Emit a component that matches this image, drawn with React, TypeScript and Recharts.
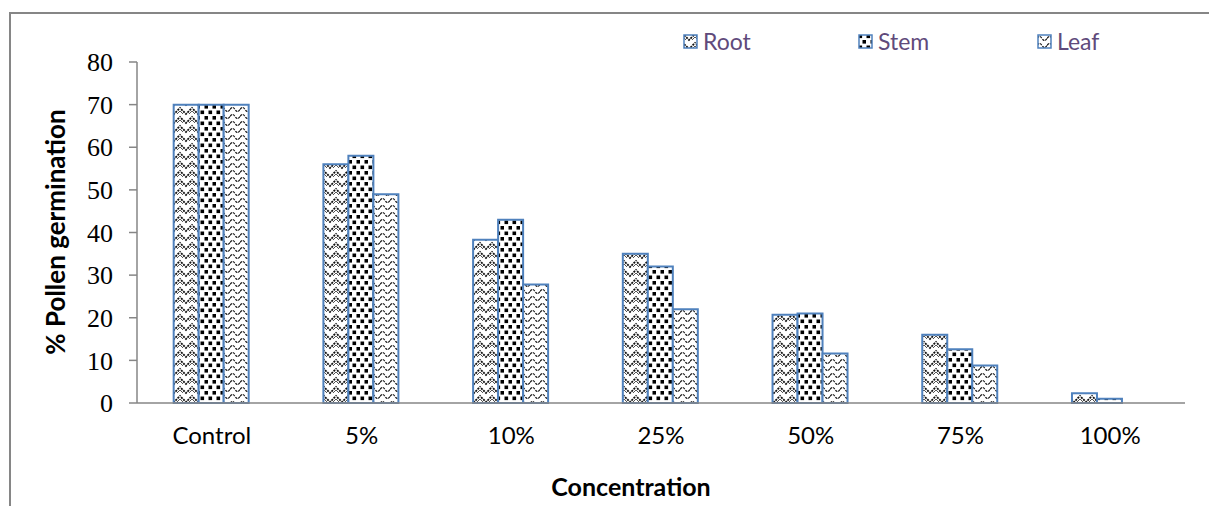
import React from 'react';
import { BarChart, Bar, XAxis, YAxis } from 'recharts';

const categories = ['Control', '5%', '10%', '25%', '50%', '75%', '100%'];
const rootValues = [70, 56, 38.3, 35, 20.7, 16, 2.3];
const stemValues = [70, 58, 43, 32, 21, 12.6, 1];
const leafValues = [70, 49, 27.8, 22, 11.6, 8.8, 0];
const yTicks = [0, 10, 20, 30, 40, 50, 60, 70, 80];

const seriesList = [
  { key: 'root', name: 'Root', pattern: 'url(#pat-root)' },
  { key: 'stem', name: 'Stem', pattern: 'url(#pat-stem)' },
  { key: 'leaf', name: 'Leaf', pattern: 'url(#pat-leaf)' },
];

const data = categories.map((c, i) => ({
  name: c,
  root: rootValues[i],
  stem: stemValues[i],
  leaf: leafValues[i],
}));

const BAR_STROKE = '#4F81BD';
const AXIS_GREY = '#868686';

function Patterns() {
  return (
    <defs>
      <pattern id="pat-root" width="12" height="9" patternUnits="userSpaceOnUse">
        <rect width="12" height="9" fill="#fff" />
        <path d="M-1,-1 L6,6 L13,-1 M-1,8 L6,15 L13,8" fill="none" stroke="#111" strokeWidth="1.8" strokeDasharray="2 1" />
        <path d="M0,3 L3,6 M12,3 L9,6" fill="none" stroke="#555" strokeWidth="1" />
      </pattern>
      <pattern id="pat-stem" width="8" height="11" patternUnits="userSpaceOnUse">
        <rect width="8" height="11" fill="#fff" />
        <rect x="0.5" y="0.5" width="3.6" height="3.6" fill="#000" />
        <rect x="4.5" y="6" width="3.6" height="3.6" fill="#000" />
      </pattern>
      <pattern id="pat-leaf" width="10" height="7" patternUnits="userSpaceOnUse">
        <rect width="10" height="7" fill="#fff" />
        <path d="M0,4.5 Q2.5,0.5 5,4.5 T10,4.5" fill="none" stroke="#111" strokeWidth="1.2" strokeDasharray="2.5 1" />
      </pattern>
    </defs>
  );
}

function LegendBox() {
  return (
    <div
      style={{
        position: 'absolute',
        left: 683,
        top: 27,
        display: 'flex',
        fontFamily: 'Lato, sans-serif',
        fontSize: 23,
        color: '#604A7B',
        lineHeight: '28px',
      }}
    >
      {seriesList.map((s, i) => (
        <div key={s.key} style={{ display: 'flex', alignItems: 'center', width: i === 0 ? 175 : 179 }}>
          <svg width={15} height={15} style={{ marginRight: 5 }}>
            <rect x={1} y={1} width={13} height={13} fill={s.pattern} stroke={BAR_STROKE} strokeWidth={1.5} />
          </svg>
          <span>{s.name}</span>
        </div>
      ))}
    </div>
  );
}

export default function App() {
  return (
    <div style={{ position: 'absolute', left: 0, top: 0, width: 1209, height: 506, background: '#fff' }}>
      <div
        style={{
          position: 'absolute',
          left: 9,
          top: 12,
          right: 0,
          bottom: 0,
          borderTop: `2px solid ${AXIS_GREY}`,
          borderLeft: `2px solid ${AXIS_GREY}`,
        }}
      />
      <BarChart
        width={1209}
        height={506}
        data={data}
        margin={{ top: 62, right: 24, left: 77, bottom: 43 }}
        barCategoryGap="24.5%"
        barGap={0}
        style={{ position: 'absolute', left: 0, top: 0 }}
      >
        <Patterns />
        <XAxis
          dataKey="name"
          height={60}
          tickLine={false}
          axisLine={{ stroke: AXIS_GREY, strokeWidth: 1.5 }}
          tickMargin={18}
          tick={{ fill: '#000', fontSize: 24, fontFamily: 'Lato, sans-serif' }}
          label={{
            content: () => (
              <text x={631} y={486} textAnchor="middle" dominantBaseline="central" fontFamily="Lato, sans-serif" fontWeight="bold" fontSize={25} fill="#000">
                Concentration
              </text>
            ),
          }}
        />
        <YAxis
          width={60}
          domain={[0, 80]}
          ticks={yTicks}
          interval={0}
          tickSize={8}
          tickMargin={16}
          axisLine={{ stroke: AXIS_GREY, strokeWidth: 1.5 }}
          tickLine={{ stroke: AXIS_GREY, strokeWidth: 1.5 }}
          tick={{ fill: '#000', fontSize: 26, fontFamily: 'Liberation Serif, serif' }}
          label={{
            content: () => (
              <text
                x={55}
                y={232}
                transform="rotate(-90 55 232)"
                textAnchor="middle"
                dominantBaseline="central"
                fontFamily="Lato, sans-serif"
                fontWeight="bold"
                fontSize={26}
                fill="#000"
              >
                % Pollen germination
              </text>
            ),
          }}
        />
        {seriesList.map((s) => (
          <Bar
            key={s.key}
            dataKey={s.key}
            name={s.name}
            fill={s.pattern}
            stroke={BAR_STROKE}
            strokeWidth={2}
            isAnimationActive={false}
          />
        ))}
      </BarChart>
      <LegendBox />
    </div>
  );
}
